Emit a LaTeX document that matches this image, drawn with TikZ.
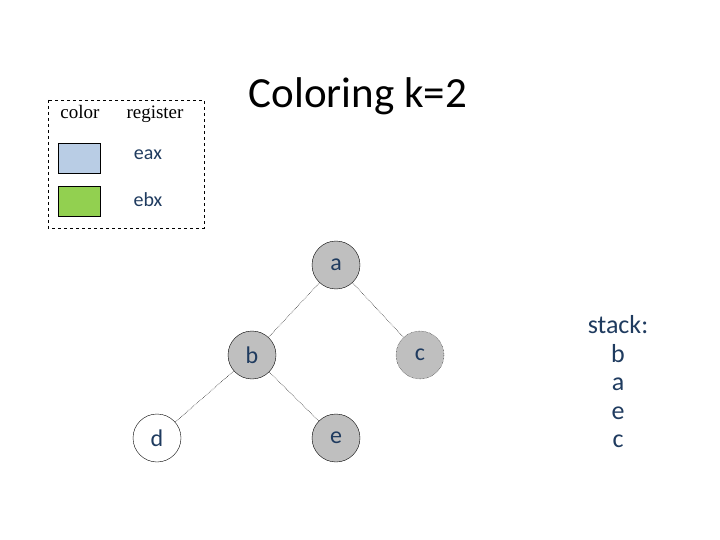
\documentclass[tikz,border=0pt]{standalone}
\usepackage{fontspec}
\setmainfont{Carlito}
\newfontfamily\legendfont{Liberation Serif}
\definecolor{txtblue}{HTML}{1F3B5F}
\definecolor{regblue}{HTML}{B9CDE5}
\definecolor{reggreen}{HTML}{92D050}
\definecolor{nodegray}{HTML}{BFBFBF}
\tikzset{vertex/.style={circle,draw,fill=nodegray,minimum size=48pt,inner sep=0pt,text=txtblue,font=\fontsize{24}{26}\selectfont}}
\tikzset{edge/.style={densely dotted,semithick,black!80}}
\tikzset{swatch/.style={draw,minimum width=42pt,minimum height=30pt,inner sep=0pt}}
\tikzset{legendtext/.style={text=txtblue,font=\fontsize{20}{22}\selectfont}}
\tikzset{legendhead/.style={anchor=base,font=\legendfont\fontsize{19}{21}\selectfont}}

\begin{document}
\begin{tikzpicture}[x=1pt,y=-1pt]
	\useasboundingbox (0,0) rectangle (720,540);

	% legend
	\draw[dashed] (48,100) rectangle (204,228);
	\node[legendhead] (hcolor) at (80,119) {color};
	\node[legendhead] (hreg) at (155,119) {register};
	\node[swatch,fill=regblue] (sw1) at (79,158) {};
	\node[swatch,fill=reggreen] (sw2) at (79,201) {};
	\node[legendtext] (leax) at (148,155) {eax};
	\node[legendtext] (lebx) at (148,200) {ebx};

	\node[font=\fontsize{43}{46}\selectfont] (title) at (358,96) {Coloring k=2};

	% interference graph
	\node[vertex] (a) at (336,265) {a};
	\node[vertex] (b) at (252,355) {b};
	\node[vertex,densely dotted] (c) at (420,355) {c};
	\node[vertex,fill=white] (d) at (157,438) {d};
	\node[vertex] (e) at (336,438) {e};

	\draw[edge] (a) -- (b);
	\draw[edge] (a) -- (c);
	\draw[edge] (b) -- (d);
	\draw[edge] (b) -- (e);

	\node[text=txtblue,font=\fontsize{26}{28.5}\selectfont,align=center] (stack) at (618,382) {stack:\\b\\a\\e\\c};
\end{tikzpicture}
\end{document}
